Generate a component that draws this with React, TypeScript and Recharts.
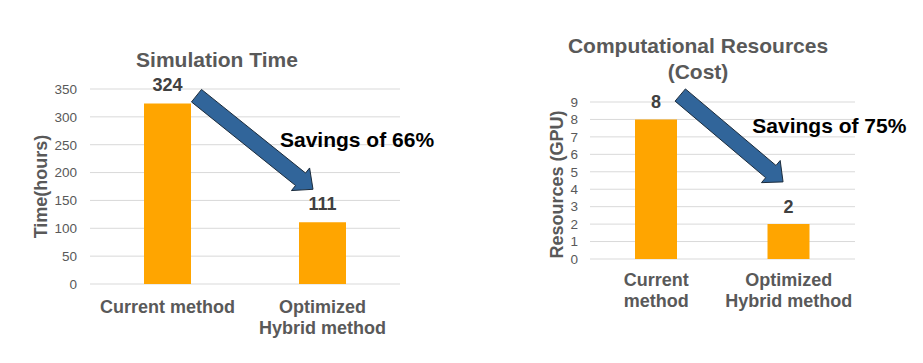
import { BarChart, Bar, XAxis, YAxis, CartesianGrid, LabelList, ReferenceLine } from 'recharts';

const FONT = '"Liberation Sans", Arial, sans-serif';
const GRAY = '#595959';
const DARK = '#404040';
const ORANGE = '#FFA500';
const GRID = '#D9D9D9';
const ARROW_FILL = '#31659A';
const ARROW_STROKE = '#1C2C3C';

// simulation time chart
const timeCategories = ['Current method', 'Optimized\nHybrid method'];
const timeValues = [324, 111];
const timeTicks = [0, 50, 100, 150, 200, 250, 300, 350];
const timeArrowY = [338, 170];

// computational resources chart
const costCategories = ['Current\nmethod', 'Optimized\nHybrid method'];
const costValues = [8, 2];
const costTicks = [0, 1, 2, 3, 4, 5, 6, 7, 8, 9];
const costArrowY = [9.4, 4.42];

const timeData = timeCategories.map((name, i) => ({ name, value: timeValues[i] }));
const costData = costCategories.map((name, i) => ({ name, value: costValues[i] }));

function CategoryTick(props: any) {
  const { x, y, payload, firstDy } = props;
  const lines = String(payload.value).split('\n');
  return (
    <text
      x={x}
      y={y + firstDy}
      textAnchor="middle"
      fill={GRAY}
      fontSize={18}
      fontWeight="bold"
      fontFamily={FONT}
    >
      {lines.map((line, i) => (
        <tspan key={i} x={x} dy={i === 0 ? 0 : 21}>
          {line}
        </tspan>
      ))}
    </text>
  );
}

function yLabel(text: string, bx: number, dy: number) {
  return (props: any) => {
    const vb = props.viewBox || {};
    const cx = (vb.x || 0) + bx;
    const cy = (vb.y || 0) + (vb.height || 0) / 2 + dy;
    return (
      <text
        x={cx}
        y={cy}
        transform={`rotate(-90 ${cx} ${cy})`}
        textAnchor="middle"
        fill={GRAY}
        fontSize={18}
        fontWeight="bold"
        fontFamily={FONT}
      >
        {text}
      </text>
    );
  };
}

function makeArrow(dx1: number, dx2: number) {
  return (p: any) => {
    const x1 = p.x1 + dx1;
    const y1 = p.y1;
    const x2 = p.x2 + dx2;
    const y2 = p.y2;
    const len = Math.hypot(x2 - x1, y2 - y1) || 1;
    const ux = (x2 - x1) / len;
    const uy = (y2 - y1) / len;
    const nx = -uy;
    const ny = ux;
    const shaft = 8;
    const head = 14.5;
    const headLen = 16;
    const bx = x2 - ux * headLen;
    const by = y2 - uy * headLen;
    const pts = [
      [x1 + nx * shaft, y1 + ny * shaft],
      [bx + nx * shaft, by + ny * shaft],
      [bx + nx * head, by + ny * head],
      [x2, y2],
      [bx - nx * head, by - ny * head],
      [bx - nx * shaft, by - ny * shaft],
      [x1 - nx * shaft, y1 - ny * shaft],
    ]
      .map((q) => q.join(','))
      .join(' ');
    return <polygon points={pts} fill={ARROW_FILL} stroke={ARROW_STROKE} strokeWidth={1} />;
  };
}

export default function App() {
  return (
    <div style={{ position: 'absolute', left: 0, top: 0, width: 923, height: 363, background: '#fff' }}>
      <div style={{ position: 'absolute', left: 0, top: 0 }}>
        <BarChart
          width={420}
          height={363}
          data={timeData}
          margin={{ top: 89, right: 20, bottom: 29, left: 0 }}
          barSize={47}
        >
          <CartesianGrid vertical={false} stroke={GRID} />
          <XAxis
            dataKey="name"
            height={50}
            axisLine={false}
            tickLine={false}
            tickSize={0}
            tickMargin={0}
            interval={0}
            tick={(p: any) => <CategoryTick {...p} firstDy={28.7} />}
          />
          <YAxis
            width={90}
            domain={[0, 350]}
            ticks={timeTicks}
            interval={0}
            axisLine={false}
            tickLine={false}
            tickSize={0}
            tickMargin={13}
            tick={{ fill: GRAY, fontSize: 13.5, fontFamily: FONT }}
            label={{ content: yLabel('Time(hours)', 46.7, 0) }}
          />
          <Bar dataKey="value" fill={ORANGE} isAnimationActive={false}>
            <LabelList
              dataKey="value"
              position="top"
              offset={12}
              fill={DARK}
              fontSize={18}
              fontWeight="bold"
              fontFamily={FONT}
            />
          </Bar>
          <ReferenceLine
            segment={[
              { x: timeCategories[0], y: timeArrowY[0] },
              { x: timeCategories[1], y: timeArrowY[1] },
            ]}
            ifOverflow="visible"
            shape={makeArrow(29, -9.5)}
          />
        </BarChart>
      </div>

      <div style={{ position: 'absolute', left: 480, top: 0 }}>
        <BarChart
          width={443}
          height={363}
          data={costData}
          margin={{ top: 102, right: 68, bottom: 54, left: 0 }}
          barSize={42}
        >
          <CartesianGrid vertical={false} stroke={GRID} />
          <XAxis
            dataKey="name"
            height={50}
            axisLine={false}
            tickLine={false}
            tickSize={0}
            tickMargin={0}
            interval={0}
            tick={(p: any) => <CategoryTick {...p} firstDy={27.4} />}
          />
          <YAxis
            width={110}
            domain={[0, 9]}
            ticks={costTicks}
            interval={0}
            axisLine={false}
            tickLine={false}
            tickSize={0}
            tickMargin={12}
            tick={{ fill: GRAY, fontSize: 13.5, fontFamily: FONT }}
            label={{ content: yLabel('Resources (GPU)', 82.7, 4) }}
          />
          <Bar dataKey="value" fill={ORANGE} isAnimationActive={false}>
            <LabelList
              dataKey="value"
              position="top"
              offset={11}
              fill={DARK}
              fontSize={18}
              fontWeight="bold"
              fontFamily={FONT}
            />
          </Bar>
          <ReferenceLine
            segment={[
              { x: costCategories[0], y: costArrowY[0] },
              { x: costCategories[1], y: costArrowY[1] },
            ]}
            ifOverflow="visible"
            shape={makeArrow(24, -5.7)}
          />
        </BarChart>
      </div>

      <svg
        width={923}
        height={363}
        style={{ position: 'absolute', left: 0, top: 0, pointerEvents: 'none' }}
        fontFamily={FONT}
        fontWeight="bold"
      >
        <text x={217} y={67} textAnchor="middle" fontSize={21} fill={GRAY}>
          Simulation Time
        </text>
        <text x={698} y={52.5} textAnchor="middle" fontSize={21} fill={GRAY}>
          Computational Resources
        </text>
        <text x={698} y={79} textAnchor="middle" fontSize={21} fill={GRAY}>
          (Cost)
        </text>
        <text x={280} y={146.7} fontSize={21} fill="#000">
          Savings of 66%
        </text>
        <text x={752.3} y={132.7} fontSize={21} fill="#000">
          Savings of 75%
        </text>
      </svg>
    </div>
  );
}
